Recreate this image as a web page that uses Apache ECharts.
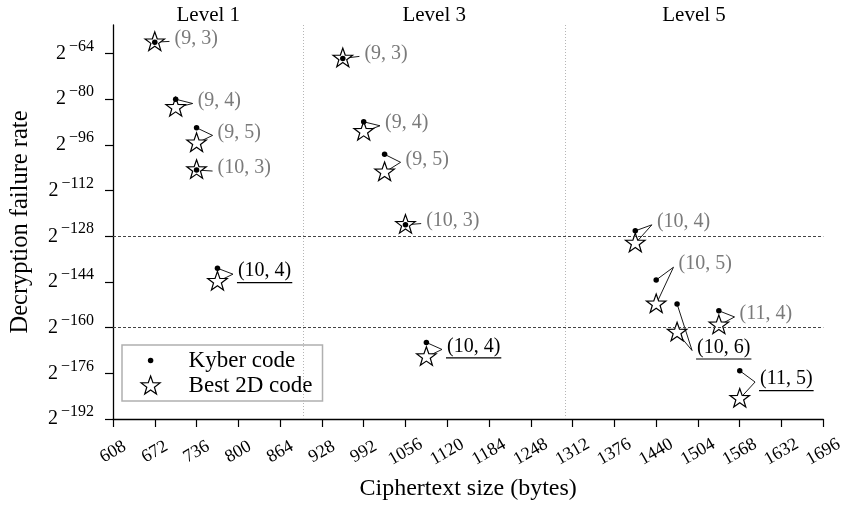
<!DOCTYPE html>
<html>
<head>
<meta charset="utf-8">
<script src="https://cdn.jsdelivr.net/npm/echarts@6/dist/echarts.min.js"></script>
<style>
html,body{margin:0;padding:0;background:#fff;}
#chart{width:846px;height:506px;}
</style>
</head>
<body>
<div id="chart"></div>
<script>
// ---- data ----
const levels = ['Level 1', 'Level 3', 'Level 5'];
const levelCenters = [754, 1100, 1498];
const levelBounds = [900, 1300];
const thresholds = [-128, -160];
const xTicks = [608, 672, 736, 800, 864, 928, 992, 1056, 1120, 1184, 1248, 1312, 1376, 1440, 1504, 1568, 1632, 1696];
const yTicks = [-192, -176, -160, -144, -128, -112, -96, -80, -64];
const params = ['(9, 3)', '(9, 4)', '(9, 5)', '(10, 3)', '(10, 4)',
                '(9, 3)', '(9, 4)', '(9, 5)', '(10, 3)', '(10, 4)',
                '(10, 4)', '(10, 5)', '(10, 6)', '(11, 4)', '(11, 5)'];
const ciphertextBytes = [672, 704, 736, 736, 768,
                         960, 992, 1024, 1056, 1088,
                         1408, 1440, 1472, 1536, 1568];
const kyberLog2 = [-60, -80, -90, -104.8, -139.2,
                   -65.7, -87.9, -99.3, -124, -165.2,
                   -126.1, -143.3, -151.7, -154.1, -175.1];
const best2DLog2 = [-60, -83, -95.4, -104.8, -143.9,
                    -65.7, -91.4, -105.6, -124, -170.3,
                    -130.5, -151.8, -161.7, -159.2, -184.9];
const underlined = [false, false, false, false, true,
                    false, false, false, false, true,
                    false, false, true, false, true];

// ---- label placement (pixels, relative to the star mark) ----
const labelOffsets = [[19.7, -3.7], [22, -7.3], [21, -10.8], [21, -2], [20.5, -10.5],
                      [21.6, -5], [21.3, -9], [21, -13], [20.7, -4.3], [20.6, -10.6],
                      [21.6, -21.6], [22.3, -40], [20, 15], [20.7, -11.4], [20.3, -19.7]];

const FONT = '"Liberation Serif", "DejaVu Serif", serif';

function starPath(cx, cy, R, r) {
  let s = '';
  for (let k = 0; k < 10; k++) {
    const a = (-90 + k * 36) * Math.PI / 180;
    const rad = k % 2 === 0 ? R : r;
    s += (k === 0 ? 'M' : 'L') + (cx + rad * Math.cos(a)).toFixed(2) + ',' + (cy + rad * Math.sin(a)).toFixed(2);
  }
  return s + 'Z';
}
const starSymbol = 'path://' + starPath(50, 50, 50, 20);
// legend icons: invisible move points fix the icon box so the glyph sits at its left
const legendStar = 'path://M0,0M43,20' + starPath(10, 10.5, 10, 4);
const legendDot = 'path://M0,0M43,20M12.75,10A2.75,2.75,0,1,1,7.25,10A2.75,2.75,0,1,1,12.75,10Z';

const measureCtx = document.createElement('canvas').getContext('2d');
function textWidth(t, size) {
  measureCtx.font = size + 'px ' + FONT;
  return measureCtx.measureText(t).width;
}

const chart = echarts.init(document.getElementById('chart'), null, {renderer: 'canvas'});

const pointData = ciphertextBytes.map((x, i) => [x, kyberLog2[i], best2DLog2[i], i]);

const option = {
  animation: false,
  backgroundColor: '#fff',
  grid: {left: 111.7, right: 19.7, top: 25, bottom: 86.7, containLabel: false},
  xAxis: {
    type: 'value', min: 608, max: 1696,
    name: 'Ciphertext size (bytes)', nameLocation: 'middle', nameGap: 58,
    nameTextStyle: {fontFamily: FONT, fontSize: 24, color: '#000'},
    axisLine: {lineStyle: {color: '#000', width: 1.3}},
    axisTick: {show: true, length: 8, lineStyle: {color: '#000', width: 1.2}, customValues: xTicks},
    axisLabel: {customValues: xTicks, rotate: 30, align: 'center', verticalAlign: 'middle', margin: 33,
                formatter: v => String(v),
                fontFamily: FONT, fontSize: 18, color: '#000'},
    splitLine: {show: false}
  },
  yAxis: {
    type: 'value', min: -192, max: -54,
    name: 'Decryption failure rate', nameLocation: 'middle', nameGap: 80, nameRotate: 90,
    nameTextStyle: {fontFamily: FONT, fontSize: 24.5, color: '#000'},
    axisLine: {lineStyle: {color: '#000', width: 1.3}},
    axisTick: {show: true, length: 8, lineStyle: {color: '#000', width: 1.2}, customValues: yTicks},
    axisLabel: {
      customValues: yTicks, margin: 19,
      formatter: v => '{b|2}{s|\u2212' + Math.abs(v) + '}',
      rich: {
        b: {fontFamily: FONT, fontSize: 20, color: '#000', lineHeight: 30, verticalAlign: 'middle'},
        s: {fontFamily: FONT, fontSize: 16, color: '#000', lineHeight: 13, verticalAlign: 'top', padding: [0, 0, 0, 3]}
      }
    },
    splitLine: {show: false}
  },
  legend: {
    orient: 'vertical', left: 122, top: 345,
    padding: [4, 10, 4, 18], itemWidth: 43, itemHeight: 20, itemGap: 2,
    borderColor: '#b0b0b0', borderWidth: 1.5, backgroundColor: '#fff',
    textStyle: {fontFamily: FONT, fontSize: 23, color: '#000'},
    data: [
      {name: 'Kyber code', icon: legendDot, itemStyle: {color: '#000', borderWidth: 0}},
      {name: 'Best 2D code', icon: legendStar, itemStyle: {color: '#fff', borderColor: '#000', borderWidth: 1.2}}
    ]
  },
  series: [
    {
      type: 'custom', name: 'guides', z: 1, silent: true,
      data: pointData,
      renderItem: (p, api) => {
        const i = api.value(3);
        const pDot = api.coord([api.value(0), api.value(1)]);
        const pStar = api.coord([api.value(0), api.value(2)]);
        const off = labelOffsets[i];
        const tx = pStar[0] + off[0], ty = pStar[1] + off[1];
        const ex = tx - 5, ey = ty + 3;
        const ul = underlined[i];
        const children = [];
        const lineStyle = {stroke: '#000', lineWidth: 0.9};
        children.push({type: 'line', shape: {x1: pStar[0], y1: pStar[1], x2: ex, y2: ey}, style: lineStyle});
        if (Math.abs(pDot[1] - pStar[1]) > 2) {
          children.push({type: 'line', shape: {x1: pDot[0], y1: pDot[1], x2: ex, y2: ey}, style: lineStyle});
        }
        children.push({type: 'text', x: tx, y: ty, style: {
          text: params[i], fontFamily: FONT, fontSize: 20, fill: ul ? '#000' : '#7a7a7a',
          align: 'left', verticalAlign: 'middle'}});
        if (ul) {
          const w = textWidth(params[i], 20);
          children.push({type: 'line', shape: {x1: tx - 1, y1: ty + 11.5, x2: tx + w + 1, y2: ty + 11.5},
                         style: {stroke: '#000', lineWidth: 1.2}});
        }
        return {type: 'group', children};
      },
      markLine: {
        silent: true, symbol: 'none', label: {show: false}, animation: false,
        data: levelBounds.map(v => ({xAxis: v, lineStyle: {color: '#b5b5b5', type: [1, 2], width: 1}}))
          .concat(thresholds.map(v => ({yAxis: v, lineStyle: {color: '#444', type: [3, 2], width: 1}})))
      }
    },
    {
      type: 'custom', name: 'levels', z: 1, silent: true,
      data: levelCenters.map((c, i) => [c, i]),
      renderItem: (p, api) => {
        const pt = api.coord([api.value(0), -54]);
        return {type: 'text', x: pt[0], y: pt[1] - 10, style: {
          text: levels[api.value(1)], fontFamily: FONT, fontSize: 21, fill: '#000',
          align: 'center', verticalAlign: 'middle'}};
      }
    },
    {
      type: 'scatter', name: 'Best 2D code', z: 3,
      symbol: starSymbol, symbolSize: 19.5, symbolKeepAspect: true, symbolOffset: [0, -1],
      itemStyle: {color: '#fff', borderColor: '#000', borderWidth: 1.2, opacity: 1},
      data: ciphertextBytes.map((x, i) => [x, best2DLog2[i]])
    },
    {
      type: 'scatter', name: 'Kyber code', z: 4,
      symbol: 'circle', symbolSize: 5.5,
      itemStyle: {color: '#000', opacity: 1},
      data: ciphertextBytes.map((x, i) => [x, kyberLog2[i]])
    }
  ]
};
chart.setOption(option);
</script>
</body>
</html>
